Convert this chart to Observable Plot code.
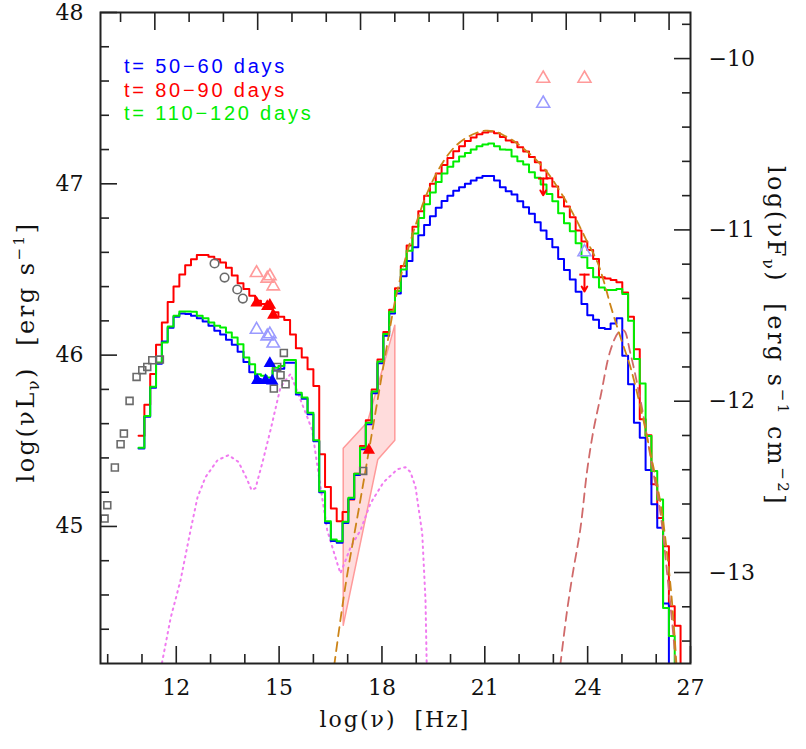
<!DOCTYPE html>
<html><head><meta charset="utf-8">
<script src="https://cdn.jsdelivr.net/npm/d3@7"></script>
<script src="https://cdn.jsdelivr.net/npm/@observablehq/plot@0.6"></script>
<style>body{margin:0;background:#fff} #chart svg{display:block}</style>
</head><body><div id="chart"></div>
<script>
// ---- step-histogram model SEDs (log nu bins) ----
const binStart = 10.90, binWidth = 0.17;
const red = [45.53,45.71,45.89,46.06,46.19,46.31,46.40,46.47,46.525,46.56,46.585,46.585,46.575,46.56,46.54,46.51,46.465,46.42,46.386,46.347,46.318,46.298,46.282,46.25,46.224,46.205,46.12,46.04,45.986,45.918,45.82,45.421,45.23,45.105,45.031,45.085,45.158,45.308,45.47,45.62,45.80,45.975,46.135,46.265,46.39,46.52,46.64,46.75,46.84,46.93,47.00,47.06,47.11,47.15,47.19,47.22,47.25,47.27,47.29,47.30,47.305,47.295,47.273,47.253,47.243,47.214,47.189,47.156,47.126,47.078,47.033,46.984,46.922,46.867,46.805,46.727,46.663,46.614,46.561,46.454,46.448,46.438,46.425,46.366,46.224,46.035,45.626,45.532,45.246,45.05,44.885,44.534,44.42];
const green = [45.46,45.645,45.815,45.957,46.074,46.167,46.23,46.255,46.255,46.253,46.23,46.216,46.191,46.171,46.161,46.132,46.103,46.064,45.986,45.947,45.889,45.879,45.869,45.927,45.937,45.971,45.971,45.781,45.752,45.664,45.503,45.206,45.031,44.924,44.914,45.027,45.167,45.308,45.46,45.606,45.787,45.963,46.123,46.253,46.375,46.50,46.61,46.71,46.80,46.88,46.95,47.01,47.06,47.10,47.13,47.16,47.18,47.20,47.22,47.23,47.235,47.22,47.20,47.199,47.16,47.132,47.113,47.068,47.035,46.996,46.941,46.898,46.828,46.770,46.723,46.653,46.571,46.509,46.454,46.395,46.380,46.380,46.386,46.357,46.201,45.977,45.834,45.528,45.323,45.158,44.524,44.36];
const blue = [45.455,45.64,45.81,45.95,46.08,46.16,46.224,46.243,46.24,46.23,46.216,46.197,46.171,46.142,46.12,46.09,46.06,46.02,45.96,45.90,45.86,45.85,45.85,45.91,45.92,45.955,45.955,45.77,45.745,45.655,45.497,45.20,45.02,44.915,44.905,45.02,45.16,45.30,45.45,45.597,45.777,45.953,46.113,46.243,46.36,46.46,46.55,46.63,46.70,46.76,46.81,46.86,46.90,46.93,46.96,46.98,47.00,47.02,47.035,47.045,47.045,47.02,46.98,46.957,46.937,46.898,46.863,46.825,46.776,46.727,46.678,46.629,46.561,46.497,46.441,46.37,46.298,46.233,46.206,46.158,46.152,46.185,46.216,45.996,45.83,45.606,45.518,45.33,45.129,44.992,44.55];

// ---- smooth model components [logNu, logNuLnu] ----
const modelTotal = [[16.549,44.10],[16.937,44.657],[17.375,45.159],[17.812,45.667],[18.153,46.064],[18.375,46.309],[18.687,46.566],[18.979,46.758],[19.270,46.922],[19.562,47.050],[19.853,47.149],[20.145,47.220],[20.437,47.266],[20.728,47.295],[21.020,47.310],[21.312,47.304],[21.604,47.278],[21.895,47.243],[22.187,47.196],[22.478,47.144],[22.770,47.080],[23.062,46.998],[23.353,46.904],[23.645,46.799],[23.937,46.682],[24.287,46.542],[24.462,46.437],[24.666,46.291],[24.958,46.104],[25.249,45.929],[25.541,45.696],[25.833,45.427],[26.125,45.135],[26.329,44.820],[26.474,44.528],[26.62,44.10]];
const modelHE = [[23.149,44.10],[23.382,44.482],[23.557,44.715],[23.790,44.990],[23.986,45.328],[24.170,45.562],[24.374,45.756],[24.666,46.029],[24.908,46.135],[25.053,46.145],[25.249,46.009],[25.541,45.737],[25.833,45.406],[26.125,45.075],[26.319,44.725],[26.512,44.336],[26.60,44.10]];
const modelDisk = [[11.484,44.10],[11.834,44.464],[12.125,44.686],[12.417,44.978],[12.621,45.171],[12.854,45.288],[13.204,45.387],[13.525,45.416],[13.817,45.376],[14.050,45.282],[14.196,45.212],[14.313,45.224],[14.517,45.376],[14.750,45.563],[15.042,45.814],[15.333,45.890],[15.625,45.738],[15.820,45.639],[15.966,45.562],[16.062,45.428],[16.208,45.230],[16.404,44.978],[16.695,44.785],[16.791,44.726],[17.083,44.878],[17.375,44.978],[17.666,45.135],[18.045,45.258],[18.454,45.334],[18.687,45.346],[18.833,45.317],[18.979,45.230],[19.174,44.961],[19.270,44.570],[19.314,44.10]];

// ---- X-ray bow-tie ----
const bowtie = [[16.870,45.457],[17.579,45.610],[18.375,46.175],[18.375,45.503],[17.879,45.391],[16.870,44.423]];

// ---- data points ----
const archiveSquares = [[9.909,45.046],[9.988,45.124],[10.209,45.344],[10.376,45.480],[10.472,45.542],[10.638,45.733],[10.842,45.873],[11.008,45.912],[11.154,45.931],[11.300,45.970],[11.522,45.974],[15.138,46.013],[14.945,45.931],[15.042,45.883],[15.188,45.830],[14.846,45.805],[17.453,45.324]];
const archiveCircles = [[13.117,46.535],[13.409,46.453],[13.779,46.383],[13.942,46.330]];
const redFilled = [[14.342,46.305],[14.654,46.285],[14.730,46.291],[14.829,46.233],[17.617,45.445]];
const blueFilled = [[14.362,45.853],[14.604,45.853],[14.730,45.951],[14.800,45.849]];
const redOpen = [[14.342,46.480],[14.654,46.447],[14.730,46.461],[14.829,46.402]];
const blueOpen = [[14.342,46.149],[14.654,46.110],[14.730,46.122],[14.829,46.068]];
const redOpenGamma = [[22.703,47.615],[23.907,47.615]];
const blueOpenGamma = [[22.703,47.469],[23.907,46.602]];
const redUpperLimits = [[22.703,47.031],[23.907,46.470]];

// ---- axes ----
const xMajor = [12,15,18,21,24,27];
const xMinor = [10,11,13,14,16,17,19,20,22,23,25,26];
const topMajor = [11.375,14.375,17.375,20.375,23.375,26.375];
const topMinor = [10.375,12.375,13.375,15.375,16.375,18.375,19.375,21.375,22.375,24.375,25.375];
const yMajor = [45,46,47,48];
const yMinor = [44.4,44.6,44.8,45.2,45.4,45.6,45.8,46.2,46.4,46.6,46.8,47.2,47.4,47.6,47.8];
const fluxOffset = 57.731;               // log(nuL_nu) - log(nuF_nu)
const rightMajor = [-10,-11,-12,-13];
const rightMinor = [-9.8,-10.2,-10.4,-10.6,-10.8,-11.2,-11.4,-11.6,-11.8,-12.2,-12.4,-12.6,-12.8,-13.2,-13.4];
const legendLabels = ["t= 50−60 days","t= 80−90 days","t= 110−120 days"];
const legendColors = ["#0000ff","#ff0000","#00ee00"];

const steps = vals => {
  const pts = vals.map((v,i) => ({x: binStart + i*binWidth, y: v}));
  pts.push({x: binStart + vals.length*binWidth, y: 43.5});
  return pts;
};
const pts = arr => arr.map(([x,y]) => ({x,y}));

const axisCommon = {label: null, stroke: "#222", strokeWidth: 1.6, fontSize: 22};
const plot = Plot.plot({
  width: 806, height: 749,
  marginLeft: 100, marginRight: 116, marginTop: 12, marginBottom: 86,
  x: {domain: [9.79, 27], label: null},
  y: {domain: [44.2, 48], label: null},
  style: {fontFamily: "DejaVu Serif", fontSize: "22px", color: "#111", background: "#fff"},
  marks: [
    Plot.line(pts(bowtie), {x: "x", y: "y", curve: "linear-closed", fill: "#ffdcdc", stroke: "#ff9a9a", strokeWidth: 1.5}),
    Plot.line(pts(modelDisk), {x: "x", y: "y", stroke: "#f07af0", strokeWidth: 2, strokeDasharray: "1.6,4.4", clip: true}),
    Plot.line(steps(red), {x: "x", y: "y", curve: "step-after", stroke: "#ff0000", strokeWidth: 2, clip: true}),
    Plot.line(steps(blue), {x: "x", y: "y", curve: "step-after", stroke: "#0000ff", strokeWidth: 2, clip: true}),
    Plot.line(steps(green), {x: "x", y: "y", curve: "step-after", stroke: "#00ee00", strokeWidth: 2, clip: true}),
    Plot.line(pts(modelHE), {x: "x", y: "y", curve: "catmull-rom", stroke: "#d06a6a", strokeWidth: 1.8, strokeDasharray: "9,6", clip: true}),
    Plot.line(pts(modelTotal), {x: "x", y: "y", curve: "catmull-rom", stroke: "#cc8418", strokeWidth: 1.8, strokeDasharray: "9,6", clip: true}),
    Plot.dot(pts(archiveSquares), {x: "x", y: "y", symbol: "square", r: 3.9, stroke: "#6a6a6a", strokeWidth: 1.6, fill: "none"}),
    Plot.dot(pts(archiveCircles), {x: "x", y: "y", symbol: "circle", r: 4.3, stroke: "#6a6a6a", strokeWidth: 1.6, fill: "none"}),
    Plot.dot(pts(redOpen), {x: "x", y: "y", symbol: "triangle", r: 4.6, stroke: "#ff9a9a", strokeWidth: 1.6, fill: "none"}),
    Plot.dot(pts(blueOpen), {x: "x", y: "y", symbol: "triangle", r: 4.6, stroke: "#9a9aff", strokeWidth: 1.6, fill: "none"}),
    Plot.dot(pts(redOpenGamma), {x: "x", y: "y", symbol: "triangle", r: 4.8, stroke: "#ff9a9a", strokeWidth: 1.6, fill: "none"}),
    Plot.dot(pts(blueOpenGamma), {x: "x", y: "y", symbol: "triangle", r: 4.8, stroke: "#9a9aff", strokeWidth: 1.6, fill: "none"}),
    Plot.dot(pts(redFilled), {x: "x", y: "y", symbol: "triangle", r: 4.6, fill: "#ff0000"}),
    Plot.dot(pts(blueFilled), {x: "x", y: "y", symbol: "triangle", r: 4.6, fill: "#0000ff"}),
    Plot.link(pts(redUpperLimits), {x1: d => d.x - 0.15, x2: d => d.x + 0.15, y1: "y", y2: "y", stroke: "#ff0000", strokeWidth: 2}),
    Plot.arrow(pts(redUpperLimits), {x1: "x", y1: "y", x2: "x", y2: d => d.y - 0.098, stroke: "#ff0000", strokeWidth: 2, headLength: 9}),
    // axes (ticks pointing inward)
    Plot.axisX(xMajor, {...axisCommon, anchor: "bottom", tickSize: -17, tickPadding: 33}),
    Plot.axisX(xMinor, {...axisCommon, anchor: "bottom", tickSize: -9, tickFormat: () => ""}),
    Plot.axisX(topMajor, {...axisCommon, anchor: "top", tickSize: -17, tickFormat: () => ""}),
    Plot.axisX(topMinor, {...axisCommon, anchor: "top", tickSize: -9, tickFormat: () => ""}),
    Plot.axisY(yMajor, {...axisCommon, anchor: "left", tickSize: -17, tickPadding: 34, tickFormat: d => String(d)}),
    Plot.axisY(yMinor, {...axisCommon, anchor: "left", tickSize: -9, tickFormat: () => ""}),
    Plot.axisY(rightMajor.map(v => v + fluxOffset), {...axisCommon, anchor: "right", tickSize: -17, tickPadding: 35, tickFormat: d => "−" + Math.round(fluxOffset - d)}),
    Plot.axisY(rightMinor.map(v => v + fluxOffset), {...axisCommon, anchor: "right", tickSize: -9, tickFormat: () => ""}),
    Plot.frame({stroke: "#222", strokeWidth: 2})
  ]
});
document.getElementById("chart").append(plot);

const svg = d3.select(plot);
const serif = "DejaVu Serif";
// x title
svg.append("text").attr("x", 395).attr("y", 727).attr("text-anchor", "middle")
  .attr("font-family", serif).attr("font-size", 22).attr("letter-spacing", 2).attr("fill", "#111")
  .text("log(ν)  [Hz]");
// left title
const lt = svg.append("text").attr("transform", "translate(34,352) rotate(-90)").attr("text-anchor", "middle")
  .attr("font-family", serif).attr("font-size", 24).attr("letter-spacing", 2.5).attr("fill", "#111");
lt.append("tspan").text("log(νL");
lt.append("tspan").attr("font-size", 16).attr("dy", 5).text("ν");
lt.append("tspan").attr("dy", -5).text(")  [erg s");
lt.append("tspan").attr("font-size", 15).attr("dy", -10).text("−1");
lt.append("tspan").attr("dy", 10).text("]");
// right title
const rt = svg.append("text").attr("transform", "translate(768,336) rotate(90)").attr("text-anchor", "middle")
  .attr("font-family", serif).attr("font-size", 24).attr("letter-spacing", 2.5).attr("fill", "#111");
rt.append("tspan").text("log(νF");
rt.append("tspan").attr("font-size", 16).attr("dy", 5).text("ν");
rt.append("tspan").attr("dy", -5).text(")  [erg s");
rt.append("tspan").attr("font-size", 15).attr("dy", -10).text("−1");
rt.append("tspan").attr("dy", 10).text(" cm");
rt.append("tspan").attr("font-size", 15).attr("dy", -10).text("−2");
rt.append("tspan").attr("dy", 10).text("]");
// legend
legendLabels.forEach((s, i) => {
  svg.append("text").attr("x", 124).attr("y", 73 + i*23.5).attr("text-anchor", "start")
    .attr("font-family", "Liberation Sans, Arial, sans-serif").attr("font-size", 20).attr("letter-spacing", 2.8)
    .attr("fill", legendColors[i]).text(s);
});
</script></body></html>
